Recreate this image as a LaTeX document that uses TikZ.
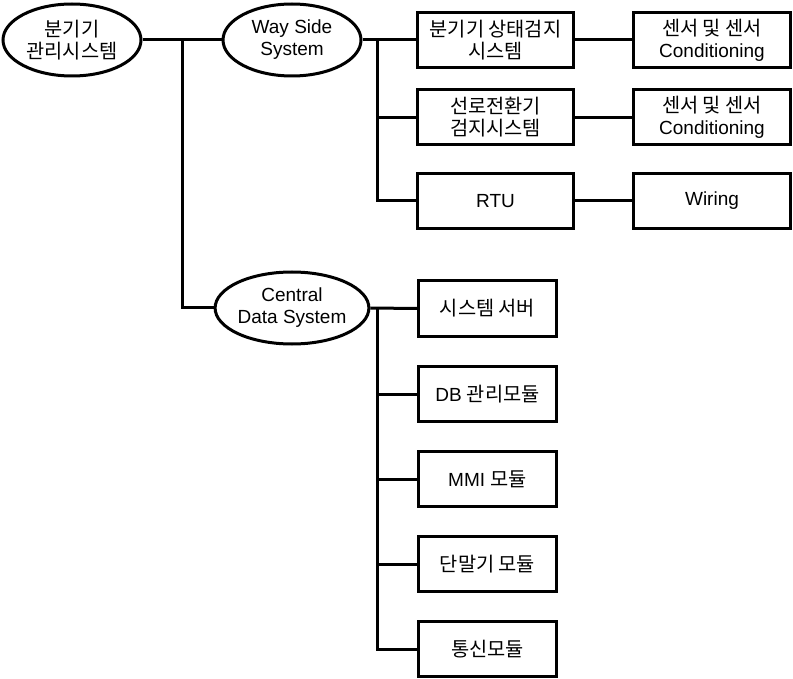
\documentclass[tikz,border=0pt]{standalone}
\usepackage{fontspec}
\setmainfont{Liberation Sans}
\newfontfamily\kr[Scale=1.04]{Noto Sans CJK KR}
\usetikzlibrary{shapes.geometric}

\tikzset{
  oval/.style={draw, ellipse, line width=3pt, minimum width=138pt, minimum height=72pt,
    inner sep=0pt, align=center, font=\fontsize{19}{22}\selectfont},
  box/.style={draw, rectangle, line width=3pt, minimum height=55pt,
    inner sep=0pt, align=center, font=\fontsize{19}{22}\selectfont},
  link/.style={line width=3pt}
}

\begin{document}
\begin{tikzpicture}[x=1pt, y=-1pt]
\useasboundingbox (0,0) rectangle (793,679);

% top level
\node[oval] (root) at (72,40) {\kr 분기기\\\kr 관리시스템};
\node[oval] (ws) at (292,40) {Way Side\\System};
\node[oval] (cds) at (292,308) {Central\\Data System};

% way side branch
\node[box, minimum width=156pt] (det) at (495.5,40) {\kr 분기기 상태검지\\\kr 시스템};
\node[box, minimum width=156pt] (sw) at (495.5,117.5) {\kr 선로전환기\\\kr 검지시스템};
\node[box, minimum width=156pt] (rtu) at (495.5,201) {RTU};
\node[box, minimum width=157pt] (sen1) at (712,40) {\kr 센서 및 센서\\Conditioning};
\node[box, minimum width=157pt] (sen2) at (712,117.5) {\kr 센서 및 센서\\Conditioning};
\node[box, minimum width=157pt] (wir) at (712,201) {Wiring};

% central data branch
\node[box, minimum width=138pt] (srv) at (487.5,308.5) {\kr 시스템 서버};
\node[box, minimum width=138pt] (db) at (487.5,394) {DB {\kr 관리모듈}};
\node[box, minimum width=138pt] (mmi) at (487.5,479) {MMI {\kr 모듈}};
\node[box, minimum width=138pt] (term) at (487.5,564) {\kr 단말기 모듈};
\node[box, minimum width=138pt] (com) at (487.5,649) {\kr 통신모듈};

\coordinate (j1) at (182,40);
\coordinate (j2) at (377,40);
\coordinate (j3) at (377,308.5);

\draw[link] (root.east) -- (ws.west);
\draw[link] (j1) |- (cds.west);

\draw[link] (ws.east) -- (det.west);
\draw[link] (j2) |- (sw.west);
\draw[link] (j2) |- (rtu.west);
\draw[link] (det.east) -- (sen1.west);
\draw[link] (sw.east) -- (sen2.west);
\draw[link] (rtu.east) -- (wir.west);

\draw[link] (cds.east) -- (srv.west);
\draw[link] (j3) |- (db.west);
\draw[link] (j3) |- (mmi.west);
\draw[link] (j3) |- (term.west);
\draw[link] (j3) |- (com.west);

\end{tikzpicture}
\end{document}
